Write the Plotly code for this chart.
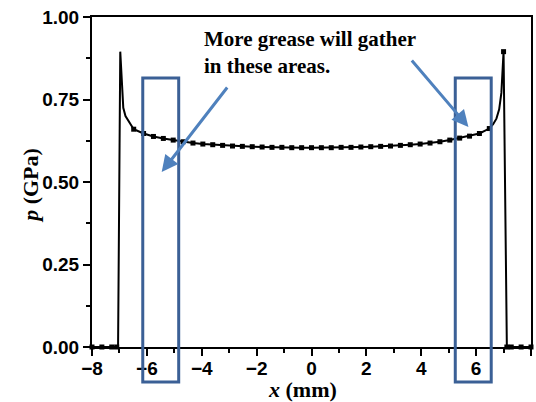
import plotly.graph_objects as go

# ---- data ----
# points on the pressure profile that carry square markers
x_marked = [-8.0, -7.64, -7.28, -7.1,
            -6.48, -6.12, -5.76, -5.40, -5.04, -4.68, -4.32, -3.96, -3.60, -3.24,
            -2.88, -2.52, -2.16, -1.80, -1.44, -1.08, -0.72, -0.36, 0.0, 0.36,
            0.72, 1.08, 1.44, 1.80, 2.16, 2.52, 2.88, 3.24, 3.60, 3.96, 4.32,
            4.68, 5.04, 5.40, 5.76, 6.12, 6.48, 7.0,
            7.12, 7.28, 7.64, 8.0]
p_marked = [0.0, 0.0, 0.0, 0.0,
            0.660, 0.647, 0.638, 0.632, 0.627, 0.622, 0.618, 0.615, 0.613, 0.611,
            0.609, 0.608, 0.607, 0.606, 0.605, 0.605, 0.604, 0.604, 0.604, 0.604,
            0.604, 0.605, 0.605, 0.606, 0.607, 0.608, 0.609, 0.611, 0.613, 0.615,
            0.618, 0.622, 0.627, 0.633, 0.639, 0.647, 0.662, 0.895,
            0.0, 0.0, 0.0, 0.0]
# extra line-only points that shape the two edge spikes
x_edge = [-7.05, -6.97, -6.92, -6.86, -6.78, -6.68, -6.58, 6.62, 6.74, 6.84, 6.92, 6.97]
p_edge = [0.0, 0.895, 0.80, 0.725, 0.700, 0.686, 0.672, 0.675, 0.692, 0.720, 0.770, 0.840]

x_ticks = [-8, -6, -4, -2, 0, 2, 4, 6, 8]
y_ticks = [0.0, 0.25, 0.5, 0.75, 1.0]

# highlighted regions (x extents in mm) and arrows (head -> tail, data coords)
regions = [(-6.15, -4.84), (5.24, 6.55)]
arrows = [(-5.46, 0.530, -3.03, 0.791), (5.72, 0.667, 3.61, 0.873)]
note_text = "More grease will gather<br>in these areas."

# ---- build curve ----
pts = sorted(zip(x_marked + x_edge, p_marked + p_edge))
x_curve = [a for a, b in pts]
p_curve = [b for a, b in pts]

fig = go.Figure()
fig.add_trace(go.Scatter(x=x_curve, y=p_curve, mode="lines",
                         line=dict(color="black", width=2),
                         cliponaxis=False, showlegend=False))
fig.add_trace(go.Scatter(x=x_marked, y=p_marked, mode="markers",
                         marker=dict(symbol="square", size=5, color="black"),
                         cliponaxis=False, showlegend=False))

tickfont = dict(family="Liberation Sans, Arial", size=19, color="black", weight="bold")

fig.update_xaxes(range=[-8, 8], tickvals=x_ticks, ticktext=[("\u2212" if v < 0 else "") + str(abs(v)) for v in x_ticks],
                 showline=True, linecolor="black", linewidth=2, mirror=True,
                 ticks="outside", ticklen=7, tickwidth=2, tickcolor="black", ticklabelstandoff=-4,
                 minor=dict(ticks="outside", ticklen=4, tickwidth=2, tickcolor="black", dtick=1, tick0=-8),
                 showgrid=False, zeroline=False, tickfont=tickfont)
fig.update_yaxes(range=[0, 1], tickvals=y_ticks, tickformat=".2f",
                 showline=True, linecolor="black", linewidth=2, mirror=True,
                 ticks="outside", ticklen=7, tickwidth=2, tickcolor="black",
                 minor=dict(ticks="outside", ticklen=4, tickwidth=2, tickcolor="black", dtick=0.125, tick0=0),
                 showgrid=False, zeroline=False, tickfont=tickfont)

for x0, x1 in regions:
    fig.add_shape(type="rect", xref="x", yref="paper", x0=x0, x1=x1, y0=-0.106, y1=0.815,
                  line=dict(color="#3b6096", width=3), fillcolor="rgba(0,0,0,0)", layer="above")

for hx, hy, tx, ty in arrows:
    fig.add_annotation(x=hx, y=hy, ax=tx, ay=ty, xref="x", yref="y", axref="x", ayref="y",
                       text="", showarrow=True, arrowhead=2, arrowsize=1.1, arrowwidth=3,
                       arrowcolor="#4f81bd")

serif = "Liberation Serif, Times New Roman, serif"
fig.add_annotation(x=-4.0, y=0.975, xref="x", yref="paper", xanchor="left", yanchor="top",
                   text="<b>" + note_text + "</b>", align="left", showarrow=False,
                   font=dict(family=serif, size=21, color="black"))
fig.add_annotation(x=0.48, y=-0.13, xref="paper", yref="paper", xanchor="center", yanchor="middle",
                   text="<b><i>x</i> (mm)</b>", showarrow=False,
                   font=dict(family=serif, size=22, color="black"))
fig.add_annotation(x=-0.14, y=0.49, xref="paper", yref="paper", xanchor="center", yanchor="middle",
                   text="<b><i>p</i> (GPa)</b>", showarrow=False, textangle=-90,
                   font=dict(family=serif, size=22, color="black"))

fig.update_layout(width=536, height=402, margin=dict(l=92, r=3, t=17, b=55),
                  plot_bgcolor="white", paper_bgcolor="white")
fig.write_html("out.html")
